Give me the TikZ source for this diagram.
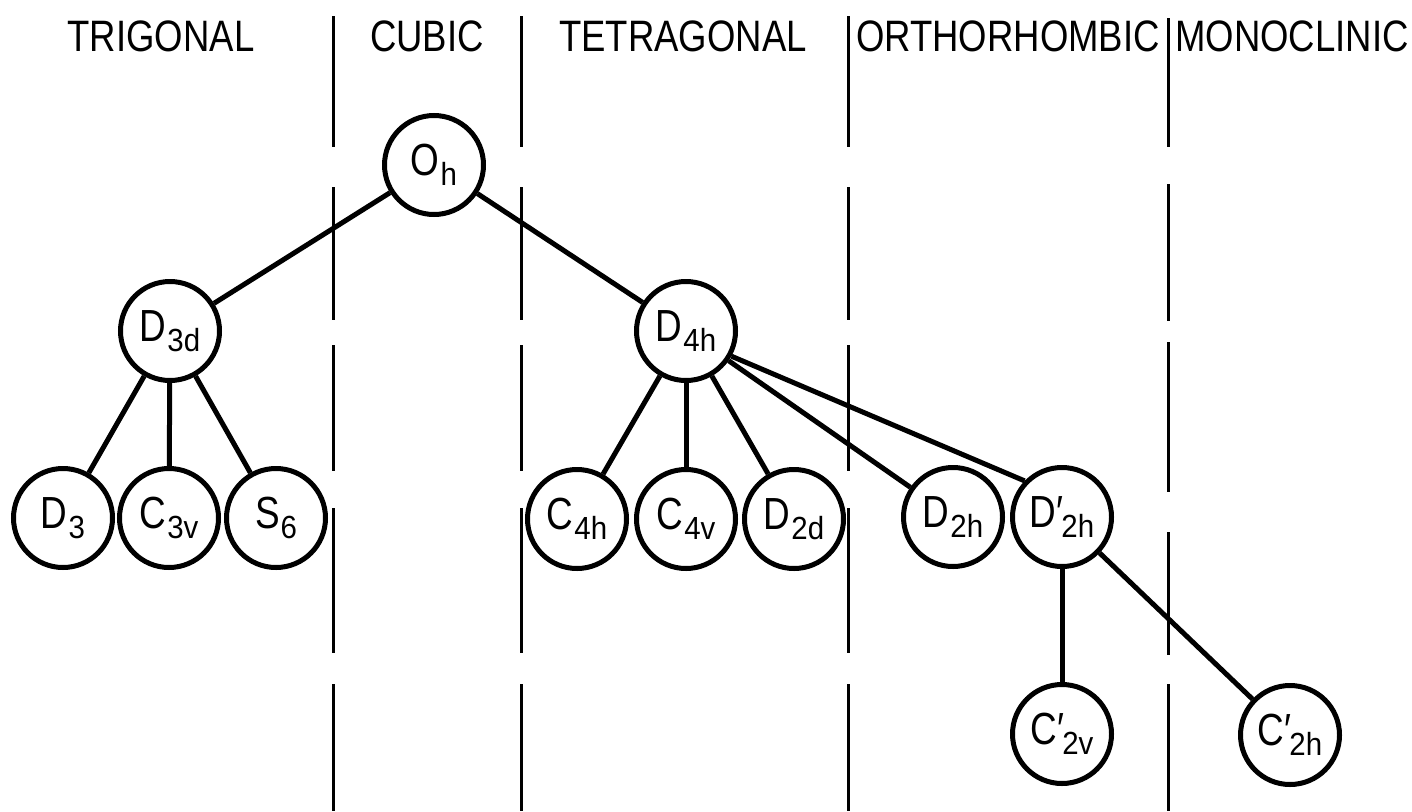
\documentclass[tikz,border=0pt]{standalone}
\usepackage{fontspec}
\usepackage{graphicx}
\setmainfont{Liberation Sans}

% point-group labels: narrow main letter with a lowered subscript (and optional prime)
\newcommand{\grpmain}[1]{\scalebox{0.82}[1]{\fontsize{45}{45}\selectfont #1}}
\newcommand{\grpsub}[1]{\raisebox{-10pt}{\scalebox{0.92}[1]{\fontsize{32}{32}\selectfont #1}}}
\newcommand{\grp}[2]{\grpmain{#1}\kern1pt\grpsub{#2}}
\newcommand{\grpp}[2]{\grpmain{#1}\grpmain{′}\kern-2pt\grpsub{#2}}

\begin{document}
\begin{tikzpicture}[x=1pt,y=-1pt,
  grpnode/.style={circle, draw=black, line width=5pt, minimum size=99pt, inner sep=0pt, fill=white},
  link/.style={line width=5pt},
  divider/.style={line width=3pt},
  header/.style={anchor=base, inner sep=0pt, font=\fontsize{44}{44}\selectfont}]
\useasboundingbox (0,0) rectangle (1412,811);

% crystal-system headings
\node[header] (hTrig)  at (161,51)  {\scalebox{0.83}[1]{TRIGONAL}};
\node[header] (hCub)   at (427,51)  {\scalebox{0.83}[1]{CUBIC}};
\node[header] (hTet)   at (683,51)  {\scalebox{0.83}[1]{TETRAGONAL}};
\node[header] (hOrth)  at (1008,51) {\scalebox{0.83}[1]{ORTHORHOMBIC}};
\node[header] (hMono)  at (1292,51) {\scalebox{0.83}[1]{MONOCLINIC}};

% dashed column dividers
\foreach \xx in {333,521,848}{
  \foreach \ya/\yb in {16/147,187/320,345/471,508/653,684/811}
    \draw[divider] (\xx,\ya) -- (\xx,\yb);
}
\foreach \ya/\yb in {18/147,184/321,342/492,532/655,684/811}
  \draw[divider] (1168,\ya) -- (1168,\yb);

% group nodes
\node[grpnode] (Oh)   at (434,165)  {\grp{O}{h}};
\node[grpnode] (D3d)  at (170,331)  {\grp{D}{3d}};
\node[grpnode] (D4h)  at (686,331)  {\grp{D}{4h}};
\node[grpnode] (D3)   at (63,518)   {\grp{D}{3}};
\node[grpnode] (C3v)  at (169,518)  {\grp{C}{3v}};
\node[grpnode] (S6)   at (276,518)  {\grp{S}{6}};
\node[grpnode] (C4h)  at (577,519)  {\grp{C}{4h}};
\node[grpnode] (C4v)  at (686,519)  {\grp{C}{4v}};
\node[grpnode] (D2d)  at (794,519)  {\grp{D}{2d}};
\node[grpnode] (D2h)  at (953,517)  {\grp{D}{2h}};
\node[grpnode] (D2hp) at (1062,517) {\grpp{D}{2h}};
\node[grpnode] (C2vp) at (1062,734) {\grpp{C}{2v}};
\node[grpnode] (C2hp) at (1290,735) {\grpp{C}{2h}};

% subgroup relations
\draw[link] (Oh) -- (D3d);
\draw[link] (Oh) -- (D4h);
\draw[link] (D3d) -- (D3);
\draw[link] (D3d) -- (C3v);
\draw[link] (D3d) -- (S6);
\draw[link] (D4h) -- (C4h);
\draw[link] (D4h) -- (C4v);
\draw[link] (D4h) -- (D2d);
\draw[link] (D4h) -- (D2h);
\draw[link] (D4h.-29) -- (D2hp.136);
\draw[link] (D2hp) -- (C2vp);
\draw[link] (D2hp) -- (C2hp);
\end{tikzpicture}
\end{document}
